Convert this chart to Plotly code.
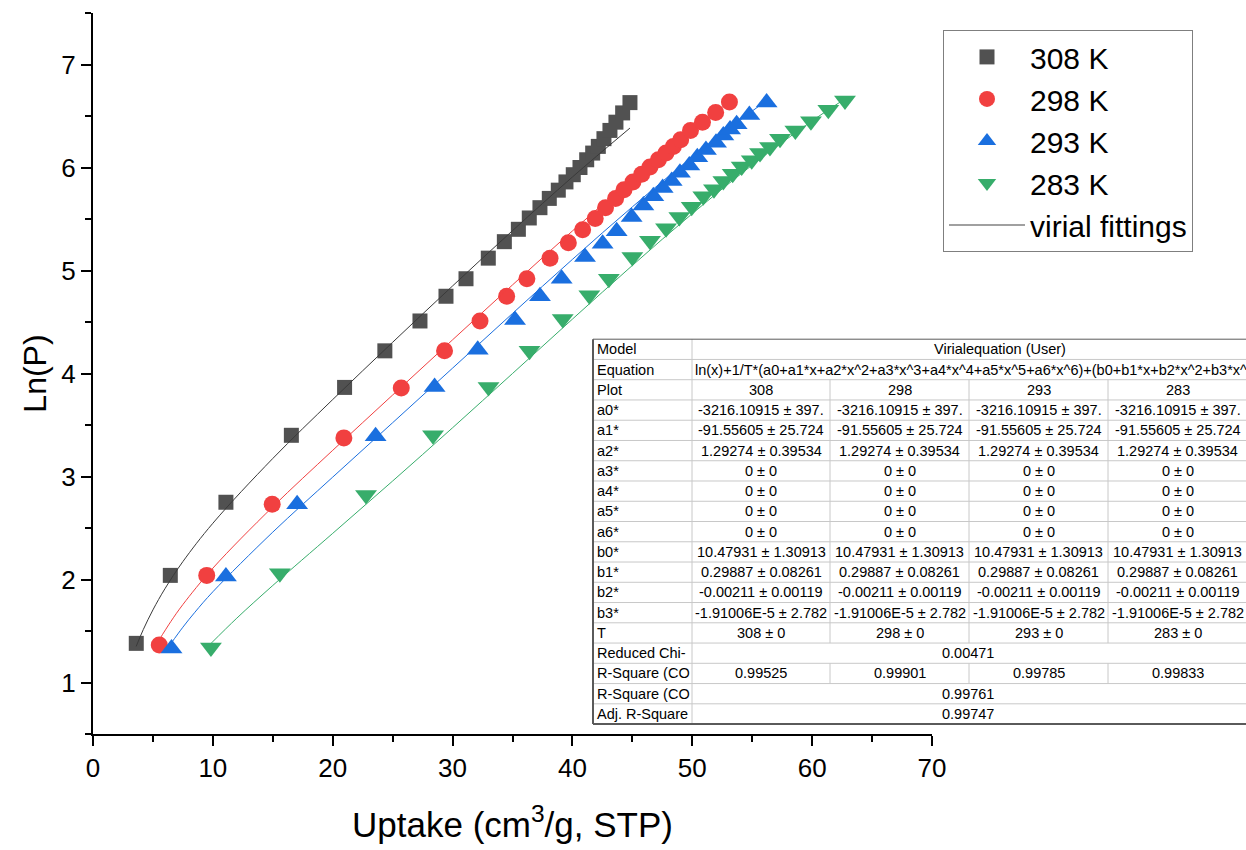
import plotly.graph_objects as go

# ---------------- data ----------------
series_names = ["308 K", "298 K", "293 K", "283 K"]

x308 = [3.61, 6.45, 11.09, 16.55, 20.99, 24.35, 27.28, 29.45, 31.12, 32.98, 34.32, 35.49, 36.40, 37.29,
        38.07, 38.82, 39.46, 40.07, 40.63, 41.19, 41.69, 42.16, 42.63, 43.13, 43.63, 44.19, 44.80]
y308 = [1.38, 2.04, 2.75, 3.40, 3.865, 4.22, 4.51, 4.75, 4.92, 5.12, 5.28, 5.40, 5.51, 5.61,
        5.70, 5.78, 5.86, 5.93, 6.00, 6.075, 6.14, 6.205, 6.28, 6.36, 6.44, 6.53, 6.63]

x298 = [5.53, 9.49, 14.95, 20.93, 25.72, 29.33, 32.29, 34.51, 36.20, 38.13, 39.66, 40.85, 41.90, 42.76,
        43.60, 44.30, 45.05, 45.78, 46.47, 47.17, 47.81, 48.42, 49.03, 49.85, 50.85, 51.95, 53.10]
y298 = [1.365, 2.04, 2.73, 3.375, 3.86, 4.22, 4.51, 4.75, 4.92, 5.12, 5.27, 5.395, 5.505, 5.61,
        5.70, 5.785, 5.86, 5.935, 6.005, 6.075, 6.14, 6.205, 6.27, 6.36, 6.44, 6.535, 6.635]

x293 = [6.55, 11.09, 17.03, 23.58, 28.50, 32.10, 35.21, 37.29, 39.10, 41.05, 42.52, 43.69, 44.94, 45.92,
        46.75, 47.53, 48.28, 48.97, 49.75, 50.42, 51.14, 51.98, 52.59, 53.15, 53.70, 54.76, 56.20]
y293 = [1.33, 2.03, 2.73, 3.39, 3.87, 4.23, 4.52, 4.75, 4.92, 5.13, 5.26, 5.38, 5.52, 5.63,
        5.72, 5.80, 5.87, 5.95, 6.02, 6.10, 6.17, 6.24, 6.31, 6.37, 6.42, 6.51, 6.63]

x283 = [9.84, 15.59, 22.78, 28.37, 33.00, 36.42, 39.19, 41.41, 43.04, 45.00, 46.47, 47.81, 48.92, 49.95,
        50.92, 51.81, 52.59, 53.37, 54.12, 54.96, 55.65, 56.48, 57.32, 58.60, 59.90, 61.35, 62.74]
y283 = [1.34, 2.06, 2.82, 3.40, 3.87, 4.22, 4.53, 4.76, 4.92, 5.13, 5.29, 5.41, 5.52, 5.62,
        5.72, 5.79, 5.87, 5.94, 6.01, 6.07, 6.14, 6.20, 6.28, 6.36, 6.45, 6.56, 6.65]

# virial fitting curves
fit308_x = [3.6, 4.2, 5.0, 6.0, 7.5, 10, 15, 20, 25, 30, 35, 40, 44.8]
fit308_y = [1.350, 1.515, 1.705, 1.910, 2.174, 2.546, 3.175, 3.747, 4.303, 4.850, 5.387, 5.908, 6.383]

fit298_x = [5.5, 6.5, 7.5, 10, 15, 20, 25, 30, 35, 40, 45, 50, 53.0]
fit298_y = [1.410, 1.593, 1.757, 2.110, 2.706, 3.254, 3.791, 4.327, 4.860, 5.384, 5.889, 6.363, 6.629]

fit293_x = [6.5, 7.5, 8.5, 10, 15, 20, 25, 30, 35, 40, 45, 50, 55, 56.2]
fit293_y = [1.378, 1.537, 1.682, 1.881, 2.460, 2.994, 3.522, 4.052, 4.583, 5.108, 5.618, 6.102, 6.548, 6.648]

fit283_x = [9.8, 12, 15, 20, 25, 30, 35, 40, 45, 50, 55, 60, 62.8]
fit283_y = [1.374, 1.625, 1.942, 2.448, 2.956, 3.473, 4.000, 4.528, 5.049, 5.552, 6.024, 6.453, 6.670]

fit_legend_name = "virial fittings"

x_title = "Uptake (cm<sup>3</sup>/g, STP)"
y_title = "Ln(P)"

# fit-report table texts
table_labels = ["Model", "Equation", "Plot", "a0*", "a1*", "a2*", "a3*", "a4*", "a5*", "a6*",
                "b0*", "b1*", "b2*", "b3*", "T", "Reduced Chi-", "R-Square (CO", "R-Square (CO",
                "Adj. R-Square"]
table_cells = [
    ["Virialequation (User)"],
    ["ln(x)+1/T*(a0+a1*x+a2*x^2+a3*x^3+a4*x^4+a5*x^5+a6*x^6)+(b0+b1*x+b2*x^2+b3*x^"],
    ["308", "298", "293", "283"],
    ["-3216.10915 ± 397."] * 4,
    ["-91.55605 ± 25.724"] * 4,
    ["1.29274 ± 0.39534"] * 4,
    ["0 ± 0"] * 4,
    ["0 ± 0"] * 4,
    ["0 ± 0"] * 4,
    ["0 ± 0"] * 4,
    ["10.47931 ± 1.30913"] * 4,
    ["0.29887 ± 0.08261"] * 4,
    ["-0.00211 ± 0.00119"] * 4,
    ["-1.91006E-5 ± 2.782"] * 4,
    ["308 ± 0", "298 ± 0", "293 ± 0", "283 ± 0"],
    ["0.00471"],
    ["0.99525", "0.99901", "0.99785", "0.99833"],
    ["0.99761"],
    ["0.99747"],
]

# ---------------- styling / geometry ----------------
FONT = "Liberation Sans, Arial, sans-serif"
COLORS = ["#515151", "#F14040", "#1A6FDF", "#37AD6B"]
SYMBOLS = ["square", "circle", "triangle-up", "triangle-down"]
SIZES = [15, 17, 19, 19]

W, H = 1246, 850
PLOT_L, PLOT_R, PLOT_T, PLOT_B = 93, 932, 13, 738   # plot area in pixels
ML, MT, MR, MB = PLOT_L, PLOT_T, W - PLOT_R, H - PLOT_B
PW, PH = PLOT_R - PLOT_L, PLOT_B - PLOT_T


def px_x(px):
    return (px - PLOT_L) / PW


def px_y(py):
    return (PLOT_B - py) / PH


fig = go.Figure()

data_sets = [(x308, y308), (x298, y298), (x293, y293), (x283, y283)]
for (xs, ys), name, col, sym, sz in zip(data_sets, series_names, COLORS, SYMBOLS, SIZES):
    fig.add_trace(go.Scatter(x=xs, y=ys, mode="markers", name=name,
                             marker=dict(symbol=sym, color=col, size=sz, line=dict(width=0))))

fits = [(fit308_x, fit308_y), (fit298_x, fit298_y), (fit293_x, fit293_y), (fit283_x, fit283_y)]
line_cols = ["#3a3a3a", "#F14040", "#1A6FDF", "#37AD6B"]
for (xs, ys), col in zip(fits, line_cols):
    fig.add_trace(go.Scatter(x=xs, y=ys, mode="lines", showlegend=False, hoverinfo="skip",
                             line=dict(color=col, width=1, shape="spline")))

fig.add_trace(go.Scatter(x=[None], y=[None], mode="lines", name=fit_legend_name,
                         line=dict(color="#808080", width=1.5)))

axis_common = dict(showline=True, linewidth=2, linecolor="black", ticks="outside",
                   ticklen=10, tickwidth=2, tickcolor="black", showgrid=False, zeroline=False,
                   mirror=False, tickfont=dict(size=26, family=FONT, color="black"))

fig.update_layout(
    width=W, height=H,
    margin=dict(l=ML, r=MR, t=MT, b=MB),
    paper_bgcolor="white", plot_bgcolor="white",
    font=dict(family=FONT, color="black"),
    xaxis=dict(range=[0, 70], tick0=0, dtick=10,
               minor=dict(dtick=5, ticks="outside", ticklen=6, tickwidth=2, tickcolor="black"),
               title=dict(text=x_title, font=dict(size=35), standoff=30),
               **axis_common),
    yaxis=dict(range=[0.5, 7.5], tick0=0, dtick=1,
               minor=dict(dtick=0.5, ticks="outside", ticklen=6, tickwidth=2, tickcolor="black"),
               title=dict(text=y_title, font=dict(size=32), standoff=5),
               **axis_common),
    legend=dict(x=px_x(943), y=px_y(30), xanchor="left", yanchor="top",
                bordercolor="#7f7f7f", borderwidth=1, bgcolor="white",
                font=dict(size=30, family=FONT, color="black"),
                itemwidth=76, tracegroupgap=0),
    showlegend=True,
)

# ---------------- fit report table (shapes + annotations) ----------------
T_LEFT, T_TOP, ROW_H = 593, 341, 20.37
T_RIGHT = 1250
COL_EDGES = [593, 692, 830, 969, 1108, 1247]
n_rows = len(table_labels)
T_BOTTOM = T_TOP + n_rows * ROW_H
GRID = "#c8c8c8"
BORDER = "#5a5a5a"
TFONT = dict(size=14.5, family=FONT, color="black")

shapes = []
shapes.append(dict(type="rect", xref="paper", yref="paper",
                   x0=px_x(T_LEFT), x1=px_x(T_RIGHT), y0=px_y(T_BOTTOM), y1=px_y(T_TOP),
                   fillcolor="white", line=dict(width=0), layer="above"))
for i in range(1, n_rows):
    yy = px_y(T_TOP + i * ROW_H)
    shapes.append(dict(type="line", xref="paper", yref="paper", x0=px_x(T_LEFT), x1=px_x(T_RIGHT),
                       y0=yy, y1=yy, line=dict(color=GRID, width=1), layer="above"))
shapes.append(dict(type="line", xref="paper", yref="paper", x0=px_x(COL_EDGES[1]), x1=px_x(COL_EDGES[1]),
                   y0=px_y(T_TOP), y1=px_y(T_BOTTOM), line=dict(color=GRID, width=1), layer="above"))
for i, cells in enumerate(table_cells):
    if len(cells) == 4:
        for e in COL_EDGES[2:5]:
            shapes.append(dict(type="line", xref="paper", yref="paper", x0=px_x(e), x1=px_x(e),
                               y0=px_y(T_TOP + i * ROW_H), y1=px_y(T_TOP + (i + 1) * ROW_H),
                               line=dict(color=GRID, width=1), layer="above"))
# outer border
shapes.append(dict(type="line", xref="paper", yref="paper", x0=px_x(T_LEFT), x1=px_x(T_RIGHT),
                   y0=px_y(T_TOP), y1=px_y(T_TOP), line=dict(color=BORDER, width=1), layer="above"))
shapes.append(dict(type="line", xref="paper", yref="paper", x0=px_x(T_LEFT), x1=px_x(T_RIGHT),
                   y0=px_y(T_BOTTOM), y1=px_y(T_BOTTOM), line=dict(color=BORDER, width=2), layer="above"))
shapes.append(dict(type="line", xref="paper", yref="paper", x0=px_x(T_LEFT), x1=px_x(T_LEFT),
                   y0=px_y(T_TOP), y1=px_y(T_BOTTOM), line=dict(color=BORDER, width=2), layer="above"))

annotations = []
for i, (lab, cells) in enumerate(zip(table_labels, table_cells)):
    yc = px_y(T_TOP + (i + 0.5) * ROW_H)
    annotations.append(dict(text=lab, xref="paper", yref="paper", x=px_x(T_LEFT + 2), y=yc,
                            xanchor="left", yanchor="middle", showarrow=False, font=TFONT))
    if len(cells) == 4:
        for j, txt in enumerate(cells):
            xc = (COL_EDGES[j + 1] + COL_EDGES[j + 2]) / 2
            annotations.append(dict(text=txt, xref="paper", yref="paper", x=px_x(xc), y=yc,
                                    xanchor="center", yanchor="middle", showarrow=False, font=TFONT))
    elif i == 1:
        annotations.append(dict(text=cells[0], xref="paper", yref="paper", x=px_x(COL_EDGES[1] + 1), y=yc,
                                xanchor="left", yanchor="middle", showarrow=False, font=TFONT))
    else:
        xc = 1000 if i == 0 else 968
        annotations.append(dict(text=cells[0], xref="paper", yref="paper", x=px_x(xc), y=yc,
                                xanchor="center", yanchor="middle", showarrow=False, font=TFONT))

fig.update_layout(shapes=shapes, annotations=annotations)

# remove the page's default body margin so the figure sits at the window's origin
fix_page = ("document.documentElement.style.margin='0';document.documentElement.style.overflow='hidden';"
            "document.body.style.margin='0';document.body.style.overflow='hidden';")
fig.write_html("out.html", config={"displayModeBar": False}, post_script=fix_page)
